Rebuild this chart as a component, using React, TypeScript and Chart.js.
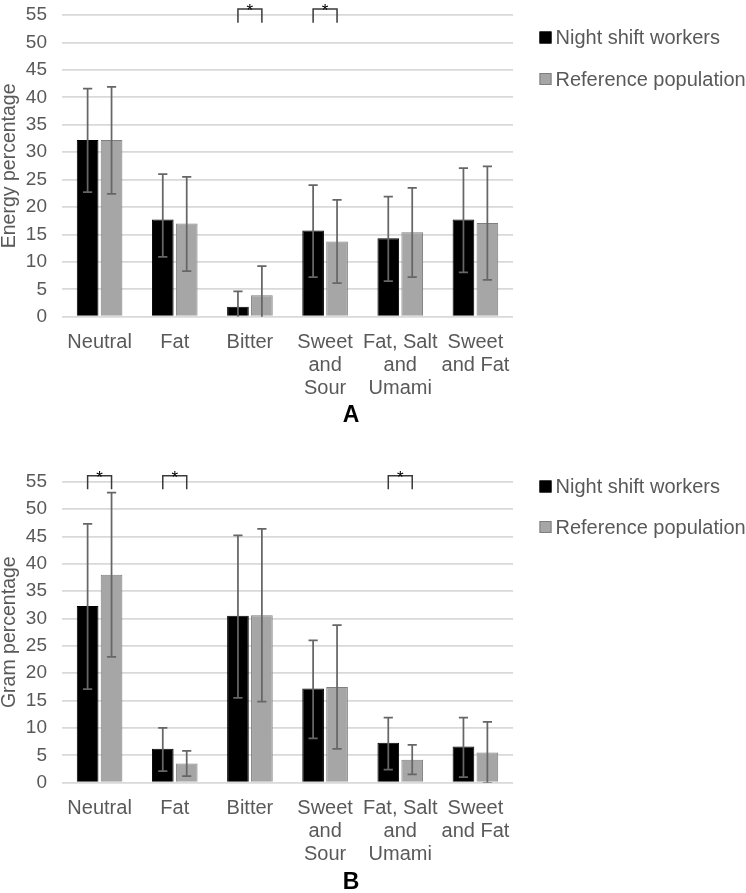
import React, { useEffect, useRef } from 'react';
import { Chart, registerables } from 'chart.js';

Chart.register(...registerables);

// ---------- data ----------
const categories: string[][] = [
  ['Neutral'],
  ['Fat'],
  ['Bitter'],
  ['Sweet', 'and', 'Sour'],
  ['Fat, Salt', 'and', 'Umami'],
  ['Sweet', 'and Fat'],
];
const seriesNames = ['Night shift workers', 'Reference population'];
const yTickValues = [0, 5, 10, 15, 20, 25, 30, 35, 40, 45, 50, 55];

// Panel A – energy percentage
const energyNight = [32.2, 17.7, 1.8, 15.7, 14.3, 17.7];
const energyNightLow = [22.7, 10.9, -1.0, 7.2, 6.5, 8.1];
const energyNightHigh = [41.6, 26.0, 4.6, 24.0, 21.9, 27.1];
const energyRef = [32.2, 17.0, 3.9, 13.7, 15.4, 17.1];
const energyRefLow = [22.4, 8.3, -1.4, 6.1, 7.2, 6.7];
const energyRefHigh = [41.9, 25.5, 9.2, 21.3, 23.5, 27.4];
const energySignificant = [2, 3];

// Panel B – gram percentage
const gramNight = [32.3, 6.2, 30.5, 17.2, 7.3, 6.6];
const gramNightLow = [17.1, 2.1, 15.5, 8.1, 2.4, 1.0];
const gramNightHigh = [47.3, 10.0, 45.2, 26.0, 11.9, 11.9];
const gramRef = [38.0, 3.5, 30.6, 17.5, 4.2, 5.5];
const gramRefLow = [23.0, 1.2, 14.8, 6.2, 1.5, -0.1];
const gramRefHigh = [53.0, 5.8, 46.4, 28.8, 6.9, 11.1];
const gramSignificant = [0, 1, 4];

// ---------- styles ----------
const FONT = '"Liberation Sans", Arial, Helvetica, sans-serif';
const TEXT = '#595959';
const FILLS = ['#000000', '#a6a6a6'];
const BORDERS = ['#000000', '#7f7f7f'];

const errorBarsPlugin = {
  id: 'errorBars',
  afterDatasetsDraw(chart: any, _args: any, opts: any) {
    const { ctx, chartArea } = chart;
    const y = chart.scales.y;
    ctx.save();
    ctx.beginPath();
    ctx.rect(chartArea.left, chartArea.top, chartArea.right - chartArea.left, chartArea.bottom - chartArea.top);
    ctx.clip();
    ctx.strokeStyle = '#666666';
    ctx.lineWidth = 1.75;
    const cap = 4.6;
    chart.data.datasets.forEach((_ds: any, i: number) => {
      const meta = chart.getDatasetMeta(i);
      meta.data.forEach((bar: any, j: number) => {
        const x = bar.x;
        const yl = y.getPixelForValue(opts.low[i][j]);
        const yh = y.getPixelForValue(opts.high[i][j]);
        ctx.beginPath();
        ctx.moveTo(x, yl);
        ctx.lineTo(x, yh);
        ctx.moveTo(x - cap, yh);
        ctx.lineTo(x + cap, yh);
        ctx.moveTo(x - cap, yl);
        ctx.lineTo(x + cap, yl);
        ctx.stroke();
      });
    });
    ctx.restore();
  },
};

const decorPlugin = {
  id: 'decor',
  afterDraw(chart: any, _args: any, opts: any) {
    const { ctx } = chart;
    const y = chart.scales.y;
    const m0 = chart.getDatasetMeta(0);
    const m1 = chart.getDatasetMeta(1);
    ctx.save();
    // significance brackets
    ctx.strokeStyle = '#3a3a3a';
    ctx.lineWidth = 1.5;
    const yTop = y.getPixelForValue(56.1);
    const yLeg = y.getPixelForValue(53.6);
    (opts.significant as number[]).forEach((k) => {
      const x1 = m0.data[k].x;
      const x2 = m1.data[k].x;
      ctx.beginPath();
      ctx.moveTo(x1, yLeg);
      ctx.lineTo(x1, yTop);
      ctx.lineTo(x2, yTop);
      ctx.lineTo(x2, yLeg);
      ctx.stroke();
      ctx.fillStyle = '#000000';
      ctx.font = `17px ${FONT}`;
      ctx.textAlign = 'center';
      ctx.textBaseline = 'alphabetic';
      ctx.fillText('*', (x1 + x2) / 2, yTop + 7.5);
    });
    // legend
    chart.data.datasets.forEach((ds: any, i: number) => {
      const cy = opts.legendY[i];
      ctx.fillStyle = ds.backgroundColor;
      ctx.fillRect(539.5, cy - 6, 12, 12);
      ctx.strokeStyle = ds.borderColor;
      ctx.lineWidth = 1;
      ctx.strokeRect(540, cy - 5.5, 11, 11);
      ctx.fillStyle = TEXT;
      ctx.font = `20px ${FONT}`;
      ctx.textAlign = 'left';
      ctx.textBaseline = 'middle';
      ctx.fillText(ds.label, 555.5, cy + 1);
    });
    // panel letter
    ctx.fillStyle = '#000000';
    ctx.font = `bold 23px ${FONT}`;
    ctx.textAlign = 'center';
    ctx.textBaseline = 'middle';
    ctx.fillText(opts.letter, 351, opts.letterY);
    ctx.restore();
  },
};

interface PanelProps {
  top: number;
  height: number;
  padTop: number;
  padBottom: number;
  yTitle: string;
  night: number[];
  nightLow: number[];
  nightHigh: number[];
  ref2: number[];
  refLow: number[];
  refHigh: number[];
  significant: number[];
  legendY: number[];
  letter: string;
  letterY: number;
}

function Panel(p: PanelProps) {
  const canvasRef = useRef<HTMLCanvasElement>(null);
  useEffect(() => {
    const chart = new Chart(canvasRef.current as HTMLCanvasElement, {
      type: 'bar',
      data: {
        labels: categories as any,
        datasets: [
          {
            label: seriesNames[0],
            data: p.night,
            backgroundColor: FILLS[0],
            borderColor: BORDERS[0],
            borderWidth: 1,
            categoryPercentage: 0.637,
            barPercentage: 0.905,
          },
          {
            label: seriesNames[1],
            data: p.ref2,
            backgroundColor: FILLS[1],
            borderColor: BORDERS[1],
            borderWidth: 1,
            categoryPercentage: 0.637,
            barPercentage: 0.905,
          },
        ],
      },
      options: {
        responsive: false,
        animation: false,
        devicePixelRatio: 1,
        layout: { padding: { left: 0, right: 233, top: p.padTop, bottom: p.padBottom } },
        plugins: {
          legend: { display: false },
          tooltip: { enabled: false },
          errorBars: {
            low: [p.nightLow, p.refLow],
            high: [p.nightHigh, p.refHigh],
          },
          decor: {
            significant: p.significant,
            legendY: p.legendY,
            letter: p.letter,
            letterY: p.letterY,
          },
        } as any,
        scales: {
          x: {
            grid: { display: false, drawTicks: false },
            border: { display: false },
            afterFit: (scale: any) => {
              scale.height = 82.8;
            },
            ticks: {
              color: TEXT,
              font: { family: FONT, size: 20, lineHeight: '23px' } as any,
              padding: 13.8,
              maxRotation: 0,
              minRotation: 0,
              autoSkip: false,
            },
          },
          y: {
            min: 0,
            max: 55,
            afterBuildTicks: (axis: any) => {
              axis.ticks = yTickValues.map((v) => ({ value: v }));
            },
            afterFit: (scale: any) => {
              scale.width = 62;
            },
            grid: {
              color: '#d9d9d9',
              lineWidth: 1.75,
              drawTicks: true,
              tickLength: 15,
              tickColor: 'rgba(0,0,0,0)',
            },
            border: { display: false },
            ticks: {
              color: TEXT,
              font: { family: FONT, size: 19 },
              padding: 0,
              autoSkip: false,
            },
            title: {
              display: true,
              text: p.yTitle,
              color: TEXT,
              font: { family: FONT, size: 19.5, lineHeight: 1 },
              padding: 0,
            },
          },
        },
      },
      plugins: [errorBarsPlugin as any, decorPlugin as any],
    });
    return () => chart.destroy();
  }, []);
  return (
    <canvas
      ref={canvasRef}
      width={746}
      height={p.height}
      style={{ position: 'absolute', left: 0, top: p.top, width: 746, height: p.height, display: 'block' }}
    />
  );
}

export default function App() {
  return (
    <div style={{ position: 'absolute', left: 0, top: 0, width: 746, height: 893, background: '#ffffff', overflow: 'hidden' }}>
      <Panel
        top={0}
        height={440}
        padTop={15}
        padBottom={40.5}
        yTitle="Energy percentage"
        night={energyNight}
        nightLow={energyNightLow}
        nightHigh={energyNightHigh}
        ref2={energyRef}
        refLow={energyRefLow}
        refHigh={energyRefHigh}
        significant={energySignificant}
        legendY={[37.5, 79]}
        letter="A"
        letterY={416}
      />
      <Panel
        top={450}
        height={443}
        padTop={31.7}
        padBottom={27.5}
        yTitle="Gram percentage"
        night={gramNight}
        nightLow={gramNightLow}
        nightHigh={gramNightHigh}
        ref2={gramRef}
        refLow={gramRefLow}
        refHigh={gramRefHigh}
        significant={gramSignificant}
        legendY={[36.5, 77]}
        letter="B"
        letterY={433}
      />
    </div>
  );
}
